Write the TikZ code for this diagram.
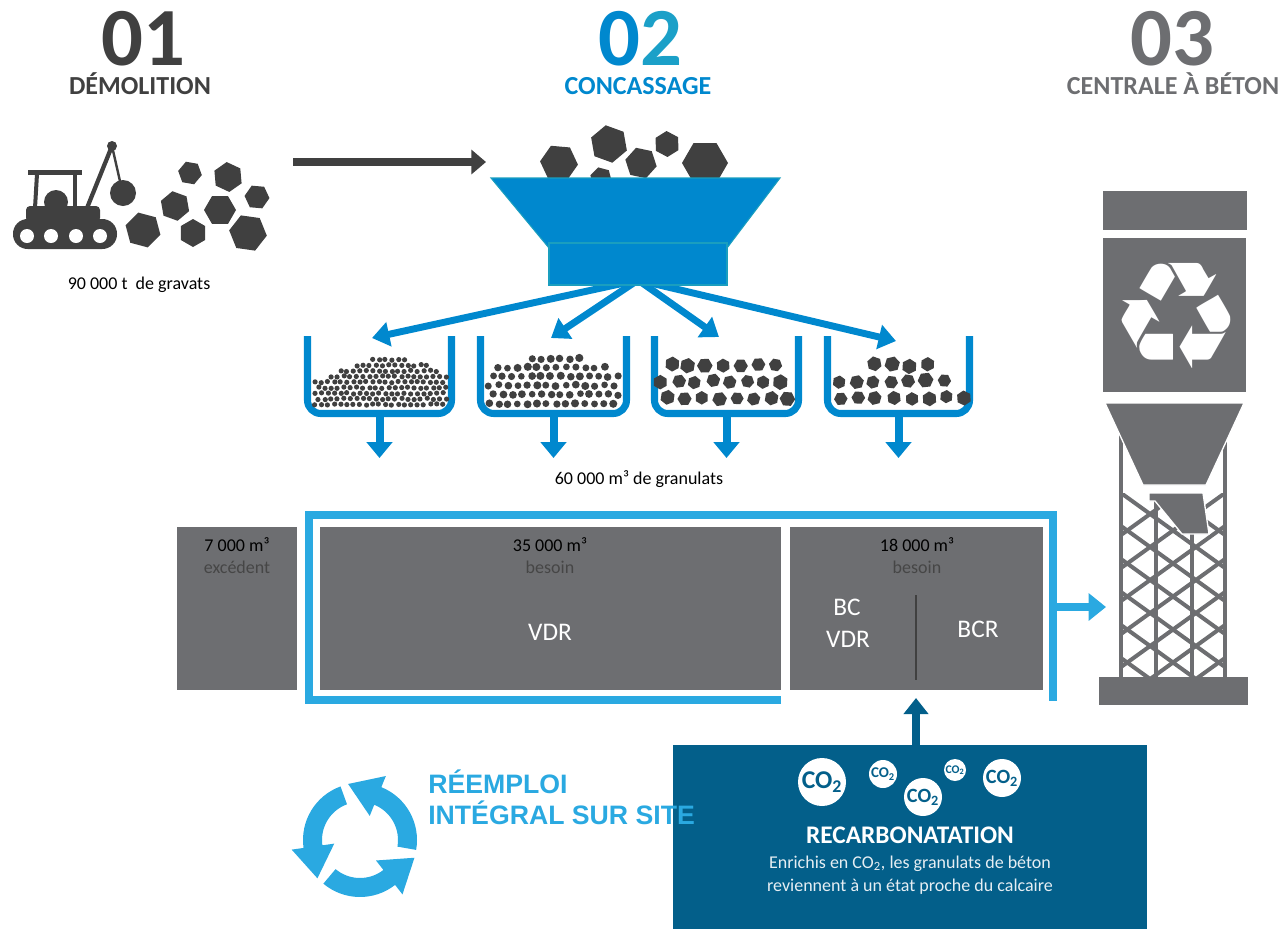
\documentclass[tikz,border=0pt]{standalone}
\usepackage{fontspec}
\setmainfont{Carlito}
\newfontfamily\arialfont{Liberation Sans}
\newfontfamily\simbolos{DejaVu Sans}
\usetikzlibrary{calc,arrows.meta}

\definecolor{gris}{HTML}{404040}
\definecolor{grisclaro}{HTML}{6D6E71}
\definecolor{textogris}{HTML}{464646}
\definecolor{azul}{HTML}{0088CE}
\definecolor{azuldos}{HTML}{1BA0C8}
\definecolor{bordetolva}{HTML}{1A9EBF}
\definecolor{celeste}{HTML}{2AA9E1}
\definecolor{marino}{HTML}{035F8A}
\definecolor{blancoazul}{HTML}{E6EEF3}

\tikzset{
  roca/.style={fill=gris},
  caja/.style={fill=grisclaro, inner sep=0pt, anchor=north west},
  numero/.style={font=\fontsize{62}{62}\selectfont\bfseries, anchor=base, inner sep=0pt},
  titulo/.style={font=\fontsize{19.5}{22}\selectfont\bfseries, anchor=base, inner sep=0pt},
  dato/.style={font=\fontsize{13.5}{16}\selectfont, anchor=base},
  grande/.style={font=\fontsize{19}{22}\selectfont, text=white, anchor=base},
  reemploi/.style={font=\arialfont\fontsize{20}{24}\selectfont\bfseries, text=celeste, anchor=base west, inner sep=0pt},
  flechagris/.style={gris, line width=5.3pt, -{Triangle[length=11pt,width=18pt]}},
  flechaazul/.style={azul, line width=5.2pt, -{Triangle[length=13pt,width=18pt]}},
  bajada/.style={azul, line width=6pt, -{Triangle[length=12pt,width=19pt]}},
  flechaceleste/.style={celeste, line width=6pt, -{Triangle[length=13pt,width=20pt]}},
  flechamarino/.style={marino, line width=5.3pt, -{Triangle[length=12pt,width=18pt]}},
  cubeta/.style={azul, line width=5.3pt, rounded corners=10pt},
}

% roca hexagonal: x, y, radio, giro
\newcommand{\roca}[4]{\fill[roca] (#1,#2) +(#4:#3) -- +(#4+60:#3) -- +(#4+120:#3) -- +(#4+180:#3) -- +(#4+240:#3) -- +(#4+300:#3) -- cycle;}

\begin{document}
\begin{tikzpicture}[x=0.75pt, y=-0.75pt]
\useasboundingbox (0,0) rectangle (1286,929);
\pgfmathsetseed{12}

% titulos
\node[numero, text=gris] (num1) at (143,65) {01};
\node[titulo, text=gris] (tit1) at (140,94) {DÉMOLITION};
\node[numero] (num2) at (640,65) {\textcolor{azul}{0}\textcolor{azuldos}{2}};
\node[titulo, text=azul] (tit2) at (638,94) {CONCASSAGE};
\node[numero, text=grisclaro] (num3) at (1172,65) {03};
\node[titulo, text=grisclaro] (tit3) at (1173,94) {CENTRALE À BÉTON};

% topadora
\fill[roca, rounded corners=11pt] (13,219) rectangle (117,249);
\fill[roca, rounded corners=3pt] (26,206) rectangle (100,222);
\fill[roca] (56,202) circle (12);
\fill[roca] (28,170) rectangle (82,175);
\draw[gris, line width=3pt] (37,174) -- (35,208);
\draw[gris, line width=3pt] (75,174) -- (75,208);
\foreach \x in {27,51,76,100} {\fill[white] (\x,236) circle (7);} % ruedas
\draw[gris, line width=3.2pt] (87,208) -- (112,146); % pluma
\draw[gris, line width=1.8pt] (112,146) -- (122,190);
\fill[roca] (112,146) circle (5);
\fill[roca] (123,193) circle (13); % bola

% escombros
\foreach \x/\y/\r/\a in {190/173/12/10, 228/177/15/25, 257/197/12.5/5, 175/206/15/20,
  220/210/16/0, 143/230/18/15, 193/233/14/30, 248/233/19/8}
  {\roca{\x}{\y}{\r}{\a}}
\node[dato] (gravats) at (139,289) {90 000 t\ \ de gravats};

\coordinate (dem-sal) at (293,162);
\coordinate (tolva-ent) at (486,162);
\draw[flechagris] (dem-sal) -- (tolva-ent);

% piedras sobre la tolva
\foreach \x/\y/\r/\a in {559/163/19/5, 609/144/19/20, 641/163/16/12, 667/144/13/28,
  705/163/23/0, 601/178/11/15}
  {\roca{\x}{\y}{\r}{\a}}

% flechas hacia las cubetas
\coordinate (tolva-sal) at (638,280);
\foreach \c/\x/\y in {1/372/338, 2/551/338, 3/719/337, 4/896/341} {
  \coordinate (cub\c-ent) at (\x,\y);
  \draw[flechaazul] (tolva-sal) -- (cub\c-ent);
}

% tolva
\fill[azul, draw=bordetolva, line width=0.8pt] (491,178) -- (780,178) -- (727,248) -- (549,248) -- cycle;
\fill[azul, draw=bordetolva, line width=0.8pt] (549,243) rectangle (727,285);

% cubetas
\foreach \c/\a/\b in {1/307.5/451.5, 2/480.5/626.5, 3/654.5/798.5, 4/827.5/969.5} {
  \draw[cubeta] (\a,336) -- (\a,413.5) -- (\b,413.5) -- (\b,336);
  \coordinate (cub\c-sal) at ({(\a+\b)/2},417);
  \coordinate (cub\c-fin) at ({(\a+\b)/2},458);
  \draw[bajada] (cub\c-sal) -- (cub\c-fin);
}

% arena fina
\foreach \i in {0,...,20} {
  \pgfmathtruncatemacro{\nf}{3.5+4.8*sin(180*(0.05+0.8*\i/20))}
  \foreach \j in {0,...,\nf} {
    \pgfmathsetmacro{\xg}{315+6.4*\i+mod(\j,2)*3.2+rand*0.7}
    \pgfmathsetmacro{\yg}{404.5-5.6*\j+rand*0.7}
    \fill[roca] (\xg,\yg) circle (2.6);
  }
}
% gravilla
\foreach \i in {0,...,13} {
  \pgfmathtruncatemacro{\nf}{3.2+2.3*sin(180*(0.1+0.8*\i/13))}
  \foreach \j in {0,...,\nf} {
    \pgfmathsetmacro{\xg}{489+9.6*\i+mod(\j,2)*4.2+rand*0.9}
    \pgfmathsetmacro{\yg}{403.5-9*\j+rand*0.9}
    \fill[roca] (\xg,\yg) circle ({3.7+rand*0.4});
  }
}
% grava media
\foreach \j/\n/\xo in {0/8/667, 1/8/661, 2/7/671} {
  \foreach \i in {1,...,\n} {
    \pgfmathsetmacro{\xg}{\xo+17.2*(\i-1)+rand*1.5}
    \pgfmathsetmacro{\yg}{398-16.5*\j+rand*1.5}
    \pgfmathsetmacro{\ang}{rand*30}
    \pgfmathsetmacro{\rg}{7.2+rand*0.7}
    \roca{\xg}{\yg}{\rg}{\ang}
  }
}
% grava gruesa
\foreach \j/\n/\xo in {0/8/841, 1/7/838, 2/4/874} {
  \foreach \i in {1,...,\n} {
    \pgfmathsetmacro{\xg}{\xo+17.5*(\i-1)+rand*1.5}
    \pgfmathsetmacro{\yg}{398-16.5*\j+rand*1.5}
    \pgfmathsetmacro{\ang}{rand*30}
    \pgfmathsetmacro{\rg}{7.3+rand*0.7}
    \roca{\xg}{\yg}{\rg}{\ang}
  }
}

\node[dato] (granulats) at (639,484) {60 000 m³ de granulats};

% cajas de volumen
\node[caja, minimum width={120*0.75pt}, minimum height={163*0.75pt}] (exces) at (177,527) {};
\node[caja, minimum width={461*0.75pt}, minimum height={163*0.75pt}] (vdr) at (320,527) {};
\node[caja, minimum width={253*0.75pt}, minimum height={163*0.75pt}] (bc) at (790,527) {};
\draw[gris, line width=1.5pt] (916,595) -- (916,680);

\node[dato] (exces-vol) at (237,551) {7 000 m³};
\node[dato, text=textogris] (exces-lab) at (237,573) {excédent};
\node[dato] (vdr-vol) at (550,551) {35 000 m³};
\node[dato, text=textogris] (vdr-lab) at (550,573) {besoin};
\node[grande] (vdr-txt) at (550,640) {VDR};
\node[dato] (bc-vol) at (917,551) {18 000 m³};
\node[dato, text=textogris] (bc-lab) at (917,573) {besoin};
\node[grande] (bc-txt) at (847,615) {BC};
\node[grande] (bcvdr-txt) at (848,647) {VDR};
\node[grande] (bcr-txt) at (978,637) {BCR};

% marco de reempleo
\draw[celeste, line width=5.3pt] (781,700) -- (309,700) -- (309,515) -- (1053,515) -- (1053,701);
\coordinate (marco-sal) at (1057,607);
\coordinate (central-ent) at (1106,607);
\draw[flechaceleste] (marco-sal) -- (central-ent);

% central a beton
\fill[grisclaro] (1103,191) rectangle (1247,230);
\fill[grisclaro] (1103,238) rectangle (1246,392);
\node[text=white, font=\simbolos\fontsize{112}{112}\selectfont, inner sep=0pt] (reciclaje) at (1176,316) {♻};
\foreach \x in {1121,1225} {\draw[grisclaro, line width=3.5pt] (\x,425) -- (\x,677);}
\foreach \x in {1156,1192} {\draw[grisclaro, line width=3.5pt] (\x,493) -- (\x,677);}
\begin{scope}
  \clip (1121,493) rectangle (1225,677);
  \foreach \k in {-1,...,5} {
    \draw[grisclaro, line width=3pt] (1121,{493+33*\k}) -- (1225,{568+33*\k});
    \draw[grisclaro, line width=3pt] (1121,{568+33*\k}) -- (1225,{493+33*\k});
  }
\end{scope}
\fill[grisclaro, draw=white, line width=1pt] (1105,403) -- (1244,403) -- (1206,485) -- (1143,485) -- cycle;
\fill[grisclaro, draw=white, line width=1pt] (1149,493) -- (1203,493) -- (1209,534) -- (1182,534) -- (1155,501) -- (1149,501) -- cycle;
\fill[grisclaro] (1099,677) rectangle (1248,705);

% recarbonatacion
\node[fill=marino, inner sep=0pt, anchor=north west, minimum width={474*0.75pt}, minimum height={184*0.75pt}] (recarb) at (673,745) {};
\coordinate (co2-fin) at (916,698);
\draw[flechamarino] (recarb.north -| co2-fin) -- (co2-fin);
\foreach \n/\x/\y/\r in {a/822/782/24, b/883/774/14, c/923/797/19, d/955/770/11, e/1002/778/19} {
  \fill[white] (\x,\y) circle (\r);
  \pgfmathsetmacro{\fs}{0.8*\r}
  \node[text=marino, font=\fontsize{\fs}{\fs}\selectfont\bfseries, inner sep=0pt] (co2\n) at (\x,\y) {CO\textsubscript{2}};
}
\node[font=\fontsize{19}{22}\selectfont\bfseries, text=white, anchor=base] (recarb-tit) at (910,843) {RECARBONATATION};
\node[dato, text=blancoazul] (recarb-l1) at (910,868) {Enrichis en CO\textsubscript{2}, les granulats de béton};
\node[dato, text=blancoazul] (recarb-l2) at (910,891) {reviennent à un état proche du calcaire};

% reempleo integral
\begin{scope}[shift={(360,840)}, yscale=-1]
  \foreach \a in {-10,110,230} {
    \fill[celeste] (\a:38) arc[start angle=\a, end angle=\a+78, radius=38] -- (\a+78:26)
      -- ($(\a+78:47.5)+(\a+168:32)$) -- (\a+78:69) -- (\a+78:57)
      arc[start angle=\a+78, end angle=\a, radius=57] -- cycle;
  }
\end{scope}
\node[reemploi] (reemp1) at (428,793) {RÉEMPLOI};
\node[reemploi] (reemp2) at (428,824) {INTÉGRAL SUR SITE};
\end{tikzpicture}
\end{document}
